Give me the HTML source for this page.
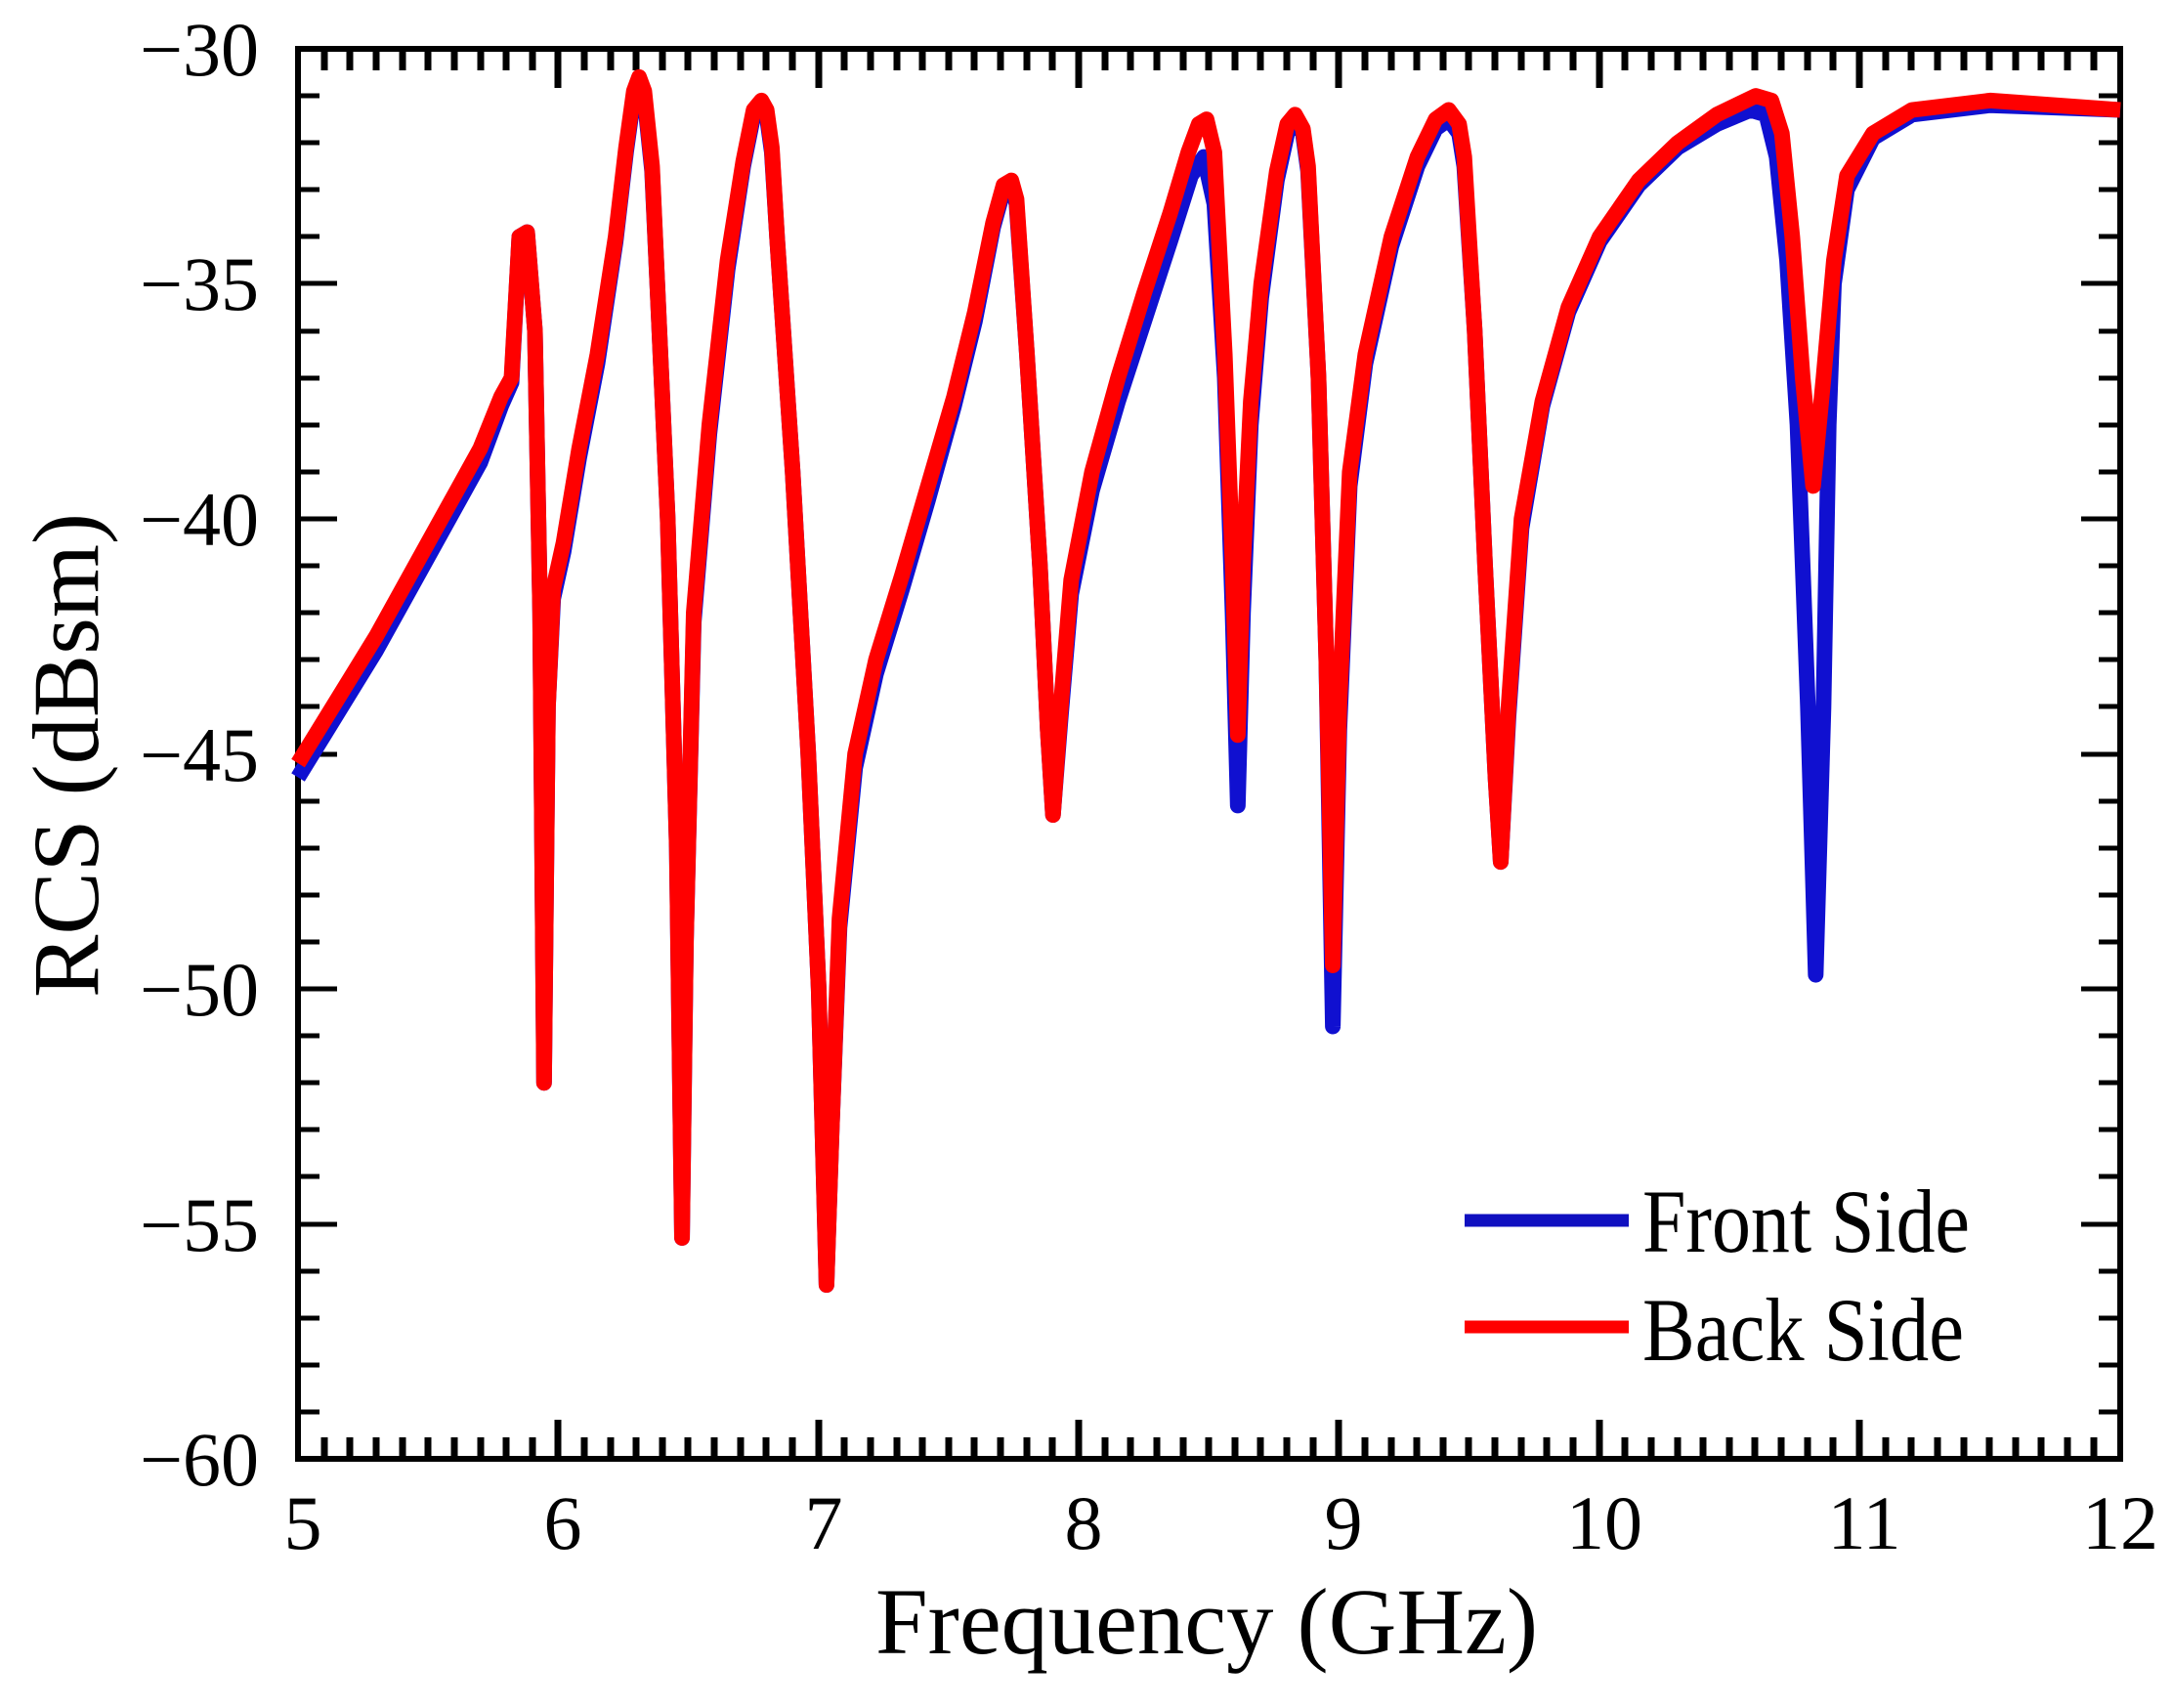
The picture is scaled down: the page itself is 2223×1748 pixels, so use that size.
<!DOCTYPE html>
<html><head><meta charset="utf-8"><style>html,body{margin:0;padding:0;background:#fff}</style></head>
<body>
<svg width="2223" height="1743" viewBox="0 0 2223 1743" xmlns="http://www.w3.org/2000/svg" font-family="Liberation Serif, serif">
<rect width="2223" height="1743" fill="#fff"/>
<g stroke="#000" stroke-width="7" fill="none">
<path d="M332,50v22M358,50v22M385,50v22M412,50v22M438,50v22M465,50v22M492,50v22M518,50v22M545,50v22M571,50v40
M598,50v22M625,50v22M651,50v22M678,50v22M704,50v22M731,50v22M758,50v22M784,50v22M811,50v22M838,50v40
M864,50v22M891,50v22M918,50v22M944,50v22M971,50v22M997,50v22M1024,50v22M1051,50v22M1077,50v22M1104,50v40
M1131,50v22M1157,50v22M1184,50v22M1211,50v22M1237,50v22M1264,50v22M1290,50v22M1317,50v22M1344,50v22M1370,50v40
M1397,50v22M1424,50v22M1450,50v22M1477,50v22M1503,50v22M1530,50v22M1557,50v22M1583,50v22M1610,50v22M1637,50v40
M1663,50v22M1690,50v22M1717,50v22M1743,50v22M1770,50v22M1796,50v22M1823,50v22M1850,50v22M1876,50v22M1903,50v40
M1930,50v22M1956,50v22M1983,50v22M2010,50v22M2036,50v22M2063,50v22M2089,50v22M2116,50v22M2143,50v22"/>
<path d="M332,1493v-22M358,1493v-22M385,1493v-22M412,1493v-22M438,1493v-22M465,1493v-22M492,1493v-22M518,1493v-22M545,1493v-22M571,1493v-40
M598,1493v-22M625,1493v-22M651,1493v-22M678,1493v-22M704,1493v-22M731,1493v-22M758,1493v-22M784,1493v-22M811,1493v-22M838,1493v-40
M864,1493v-22M891,1493v-22M918,1493v-22M944,1493v-22M971,1493v-22M997,1493v-22M1024,1493v-22M1051,1493v-22M1077,1493v-22M1104,1493v-40
M1131,1493v-22M1157,1493v-22M1184,1493v-22M1211,1493v-22M1237,1493v-22M1264,1493v-22M1290,1493v-22M1317,1493v-22M1344,1493v-22M1370,1493v-40
M1397,1493v-22M1424,1493v-22M1450,1493v-22M1477,1493v-22M1503,1493v-22M1530,1493v-22M1557,1493v-22M1583,1493v-22M1610,1493v-22M1637,1493v-40
M1663,1493v-22M1690,1493v-22M1717,1493v-22M1743,1493v-22M1770,1493v-22M1796,1493v-22M1823,1493v-22M1850,1493v-22M1876,1493v-22M1903,1493v-40
M1930,1493v-22M1956,1493v-22M1983,1493v-22M2010,1493v-22M2036,1493v-22M2063,1493v-22M2089,1493v-22M2116,1493v-22M2143,1493v-22"/>
</g>
<g stroke="#000" stroke-width="5" fill="none">
<path d="M305,98h22M305,146h22M305,194h22M305,242h22M305,290h40M305,339h22M305,387h22M305,435h22M305,483h22M305,531h40
M305,579h22M305,627h22M305,675h22M305,723h22M305,772h40M305,820h22M305,868h22M305,916h22M305,964h22M305,1012h40
M305,1060h22M305,1108h22M305,1156h22M305,1204h22M305,1253h40M305,1301h22M305,1349h22M305,1397h22M305,1445h22"/>
<path d="M2170,98h-22M2170,146h-22M2170,194h-22M2170,242h-22M2170,290h-40M2170,339h-22M2170,387h-22M2170,435h-22M2170,483h-22M2170,531h-40
M2170,579h-22M2170,627h-22M2170,675h-22M2170,723h-22M2170,772h-40M2170,820h-22M2170,868h-22M2170,916h-22M2170,964h-22M2170,1012h-40
M2170,1060h-22M2170,1108h-22M2170,1156h-22M2170,1204h-22M2170,1253h-40M2170,1301h-22M2170,1349h-22M2170,1397h-22M2170,1445h-22"/>
<rect x="305" y="50" width="1865" height="1443" stroke-width="6"/>
</g>
<g transform="matrix(266.43 0 0 -48.1 -1027.1 -1393)" fill="none" stroke-linejoin="round" stroke-linecap="butt">
<polyline vector-effect="non-scaling-stroke" stroke="#1010d0" stroke-width="16" points="5.0,-45.5 5.1,-44.6 5.2,-43.7 5.3,-42.8 5.4,-41.8 5.5,-40.8 5.6,-39.8 5.7,-38.8 5.78,-37.6 5.82,-37.1 5.85,-34.0 5.88,-33.9 5.91,-36.0 5.93,-42.0 5.945,-52.0 5.96,-44 5.98,-41.7 6.02,-40.7 6.08,-38.7 6.15,-36.7 6.22,-34.1 6.26,-32.2 6.29,-31.0 6.31,-30.7 6.33,-31.0 6.36,-32.6 6.38,-35 6.42,-40 6.455,-47 6.475,-55.3 6.49,-49 6.52,-42.2 6.58,-38.2 6.65,-34.7 6.71,-32.5 6.75,-31.4 6.78,-31.2 6.80,-31.4 6.82,-32.2 6.84,-34 6.9,-39 6.96,-45 7.0,-50 7.03,-56.3 7.05,-53 7.08,-48.7 7.14,-45.3 7.22,-43.3 7.32,-41.5 7.42,-39.6 7.52,-37.6 7.6,-35.8 7.67,-33.8 7.71,-33.0 7.74,-32.9 7.76,-33.3 7.8,-36.5 7.85,-41 7.88,-44.5 7.9,-46.3 7.93,-44.2 7.97,-41.6 8.05,-39.4 8.15,-37.5 8.25,-35.8 8.35,-34.1 8.43,-32.7 8.48,-32.3 8.52,-33.3 8.56,-37 8.59,-42 8.61,-46.1 8.63,-42 8.66,-38 8.7,-35.3 8.76,-32.8 8.8,-31.8 8.83,-31.5 8.86,-31.8 8.88,-32.6 8.92,-37 8.95,-43 8.975,-50.8 9.0,-44.5 9.04,-39.3 9.1,-36.7 9.2,-34.2 9.3,-32.5 9.37,-31.7 9.42,-31.5 9.46,-31.8 9.48,-32.5 9.52,-36 9.56,-41 9.6,-45.5 9.62,-47.3 9.65,-44.2 9.7,-40.2 9.78,-37.6 9.88,-35.6 10.0,-34.1 10.15,-32.9 10.3,-32.1 10.45,-31.6 10.58,-31.3 10.64,-31.4 10.68,-32.3 10.72,-34.5 10.76,-38 10.8,-44 10.83,-49.7 10.86,-44 10.88,-38 10.9,-35 10.95,-33 11.05,-31.9 11.2,-31.4 11.5,-31.2 12.0,-31.3"/>
<polyline vector-effect="non-scaling-stroke" stroke="#ff0000" stroke-width="16" points="5.0,-45.2 5.1,-44.3 5.2,-43.4 5.3,-42.5 5.4,-41.5 5.5,-40.5 5.6,-39.5 5.7,-38.5 5.78,-37.4 5.82,-37.0 5.85,-34.0 5.88,-33.9 5.91,-36.0 5.93,-42.0 5.945,-52.0 5.96,-44 5.98,-41.5 6.02,-40.5 6.08,-38.5 6.15,-36.5 6.22,-34.0 6.26,-32.1 6.29,-30.9 6.31,-30.6 6.33,-30.9 6.36,-32.5 6.38,-35 6.42,-40 6.455,-47 6.475,-55.3 6.49,-49 6.52,-42 6.58,-38 6.65,-34.5 6.71,-32.4 6.75,-31.3 6.78,-31.1 6.80,-31.3 6.82,-32.1 6.84,-34 6.9,-39 6.96,-45 7.0,-50 7.03,-56.3 7.05,-53 7.08,-48.5 7.14,-45 7.22,-43 7.32,-41.2 7.42,-39.3 7.52,-37.4 7.6,-35.6 7.67,-33.7 7.71,-32.9 7.74,-32.8 7.76,-33.2 7.8,-36.5 7.85,-41 7.88,-44.5 7.9,-46.3 7.93,-44 7.97,-41.3 8.05,-39 8.15,-37 8.25,-35.2 8.35,-33.5 8.42,-32.2 8.46,-31.6 8.49,-31.5 8.52,-32.2 8.56,-36.5 8.59,-41 8.61,-44.6 8.63,-41 8.66,-37.5 8.7,-35 8.76,-32.6 8.8,-31.6 8.83,-31.4 8.86,-31.7 8.88,-32.5 8.92,-37 8.95,-43 8.975,-49.5 9.0,-44 9.04,-39 9.1,-36.5 9.2,-34 9.3,-32.3 9.37,-31.5 9.42,-31.3 9.46,-31.6 9.48,-32.3 9.52,-36 9.56,-41 9.6,-45.5 9.62,-47.3 9.65,-44 9.7,-40 9.78,-37.5 9.88,-35.5 10.0,-34 10.15,-32.8 10.3,-32.0 10.45,-31.4 10.6,-31.0 10.66,-31.1 10.7,-31.8 10.74,-34 10.78,-37 10.82,-39.3 10.86,-37 10.9,-34.5 10.95,-32.7 11.05,-31.8 11.2,-31.3 11.5,-31.1 12.0,-31.3"/>
</g>
<!-- legend -->
<line x1="1499" y1="1249" x2="1667" y2="1249" stroke="#1010c0" stroke-width="13"/>
<line x1="1499" y1="1358" x2="1667" y2="1358" stroke="#ff0000" stroke-width="13"/>
<text x="1681" y="1281" font-size="92" textLength="335" lengthAdjust="spacingAndGlyphs">Front Side</text>
<text x="1681" y="1392" font-size="92" textLength="329" lengthAdjust="spacingAndGlyphs">Back Side</text>
<g font-size="78" text-anchor="end">
<text x="265" y="77">−30</text>
<text x="265" y="317">−35</text>
<text x="265" y="558">−40</text>
<text x="265" y="799">−45</text>
<text x="265" y="1039">−50</text>
<text x="265" y="1280">−55</text>
<text x="265" y="1520">−60</text>
</g>
<g font-size="78" text-anchor="middle">
<text x="310" y="1585">5</text>
<text x="576" y="1585">6</text>
<text x="843" y="1585">7</text>
<text x="1109" y="1585">8</text>
<text x="1375" y="1585">9</text>
<text x="1642" y="1585">10</text>
<text x="1908" y="1585">11</text>
<text x="2170" y="1585">12</text>
</g>
<text x="1235" y="1692" font-size="96" text-anchor="middle" textLength="678" lengthAdjust="spacingAndGlyphs">Frequency (GHz)</text>
<text transform="translate(100,773) rotate(-90)" font-size="96" text-anchor="middle" textLength="496" lengthAdjust="spacingAndGlyphs">RCS (dBsm)</text>
</svg>
</body></html>
